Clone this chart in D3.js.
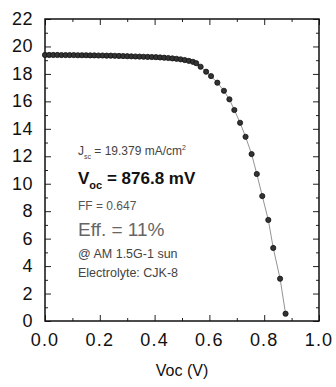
<!DOCTYPE html>
<html>
<head>
<meta charset="utf-8">
<script src="https://cdn.jsdelivr.net/npm/d3@7"></script>
<style>
  body { margin: 0; background: #fff; }
  svg text { font-family: "Liberation Sans", Arial, sans-serif; }
</style>
</head>
<body>
<div id="chart"></div>
<script>
// J-V curve
const voltage = [0.000, 0.015, 0.030, 0.045, 0.060, 0.075, 0.090, 0.105, 0.120, 0.135,
  0.150, 0.165, 0.180, 0.195, 0.210, 0.225, 0.240, 0.255, 0.270, 0.285,
  0.300, 0.315, 0.330, 0.345, 0.360, 0.375, 0.390, 0.405, 0.420, 0.435,
  0.450, 0.465, 0.480, 0.495, 0.510, 0.525, 0.540, 0.552, 0.568, 0.588,
  0.606, 0.629, 0.653, 0.673, 0.691, 0.712, 0.732, 0.754, 0.773, 0.793,
  0.815, 0.833, 0.858, 0.878];
const current = [19.38, 19.38, 19.38, 19.38, 19.37, 19.37, 19.37, 19.37, 19.36, 19.36,
  19.36, 19.35, 19.35, 19.34, 19.34, 19.33, 19.33, 19.32, 19.31, 19.30,
  19.29, 19.28, 19.27, 19.26, 19.25, 19.24, 19.23, 19.22, 19.20, 19.18,
  19.16, 19.13, 19.10, 19.06, 19.01, 18.95, 18.88, 18.78, 18.52, 18.16,
  17.84, 17.36, 16.77, 16.15, 15.37, 14.44, 13.42, 12.16, 10.71, 9.10,
  7.36, 5.32, 3.08, 0.53];

const xTicks = [0, 0.2, 0.4, 0.6, 0.8, 1.0];
const xMinor = [0.1, 0.3, 0.5, 0.7, 0.9];
const yTicks = [0, 2, 4, 6, 8, 10, 12, 14, 16, 18, 20, 22];
const yMinor = [1, 3, 5, 7, 9, 11, 13, 15, 17, 19, 21];

const margin = {top: 19, right: 17, bottom: 66, left: 45};
const W = 336, H = 387;
const width = W - margin.left - margin.right;
const height = H - margin.top - margin.bottom;

const svg = d3.select('#chart').append('svg')
  .attr('width', W)
  .attr('height', H);

const g = svg.append('g')
  .attr('transform', `translate(${margin.left},${margin.top})`);

const x = d3.scaleLinear().domain([0, 1]).range([0, width]);
const y = d3.scaleLinear().domain([0, 22]).range([height, 0]);

// inward ticks on all four sides
function ticks(axisFn, scale, vals, len, transform) {
  return g.append('g')
    .attr('transform', transform)
    .call(axisFn(scale).tickValues(vals).tickSize(len).tickFormat(''))
    .call(s => s.select('.domain').remove())
    .call(s => s.selectAll('line').attr('stroke', '#222').attr('stroke-width', 1));
}
ticks(d3.axisTop, x, xTicks, 6, `translate(0,${height})`);
ticks(d3.axisTop, x, xMinor, 3, `translate(0,${height})`);
ticks(d3.axisBottom, x, xTicks, 6, 'translate(0,0)');
ticks(d3.axisBottom, x, xMinor, 3, 'translate(0,0)');
ticks(d3.axisRight, y, yTicks, 6, 'translate(0,0)');
ticks(d3.axisRight, y, yMinor, 3, 'translate(0,0)');
ticks(d3.axisLeft, y, yTicks, 6, `translate(${width},0)`);
ticks(d3.axisLeft, y, yMinor, 3, `translate(${width},0)`);

g.append('rect')
  .attr('width', width)
  .attr('height', height)
  .attr('fill', 'none')
  .attr('stroke', '#111')
  .attr('stroke-width', 1.5);

// tick labels
g.selectAll('.xl').data(xTicks).enter().append('text')
  .attr('x', d => x(d))
  .attr('y', height + 25)
  .attr('text-anchor', 'middle')
  .attr('font-size', 18)
  .attr('letter-spacing', 1.2)
  .attr('fill', '#111')
  .text(d => d.toFixed(1));

g.selectAll('.yl').data(yTicks).enter().append('text')
  .attr('x', -12)
  .attr('y', d => y(d) + 6)
  .attr('text-anchor', 'end')
  .attr('font-size', 18)
  .attr('letter-spacing', 0.5)
  .attr('fill', '#111')
  .text(d => d);

svg.append('text')
  .attr('x', 182)
  .attr('y', 376)
  .attr('text-anchor', 'middle')
  .attr('font-size', 16)
  .attr('fill', '#111')
  .text('Voc (V)');

// data
const pts = voltage.map((v, i) => ({v: v, j: current[i]}));

g.append('path')
  .datum(pts)
  .attr('fill', 'none')
  .attr('stroke', '#777')
  .attr('stroke-width', 0.8)
  .attr('d', d3.line().x(d => x(d.v)).y(d => y(d.j)));

g.selectAll('.dot').data(pts).enter().append('circle')
  .attr('class', 'dot')
  .attr('cx', d => x(d.v))
  .attr('cy', d => y(d.j))
  .attr('r', 2.6)
  .attr('fill', '#333')
  .attr('stroke', '#111')
  .attr('stroke-width', 0.8);

// annotations
const ann = svg.append('g').attr('fill', '#444');
const t1 = ann.append('text').attr('x', 78).attr('y', 155).attr('font-size', 12);
t1.append('tspan').text('J');
t1.append('tspan').attr('font-size', 7).attr('dy', 4).text('sc');
t1.append('tspan').attr('dy', -4).text(' = 19.379 mA/cm');
t1.append('tspan').attr('font-size', 7).attr('dy', -5).text('2');

const t2 = ann.append('text').attr('x', 78).attr('y', 184).attr('font-size', 17)
  .attr('font-weight', 'bold').attr('fill', '#111');
t2.append('tspan').text('V');
t2.append('tspan').attr('font-size', 11).attr('dy', 5).text('oc');
t2.append('tspan').attr('dy', -5).text(' = 876.8 mV');

ann.append('text').attr('x', 78).attr('y', 210).attr('font-size', 12)
  .attr('fill', '#555').text('FF = 0.647');
ann.append('text').attr('x', 78).attr('y', 236).attr('font-size', 19)
  .attr('fill', '#666').text('Eff. = 11%');
ann.append('text').attr('x', 78).attr('y', 258).attr('font-size', 12.5)
  .text('@ AM 1.5G-1 sun');
ann.append('text').attr('x', 78).attr('y', 277).attr('font-size', 12.5)
  .text('Electrolyte: CJK-8');
</script>
</body>
</html>
